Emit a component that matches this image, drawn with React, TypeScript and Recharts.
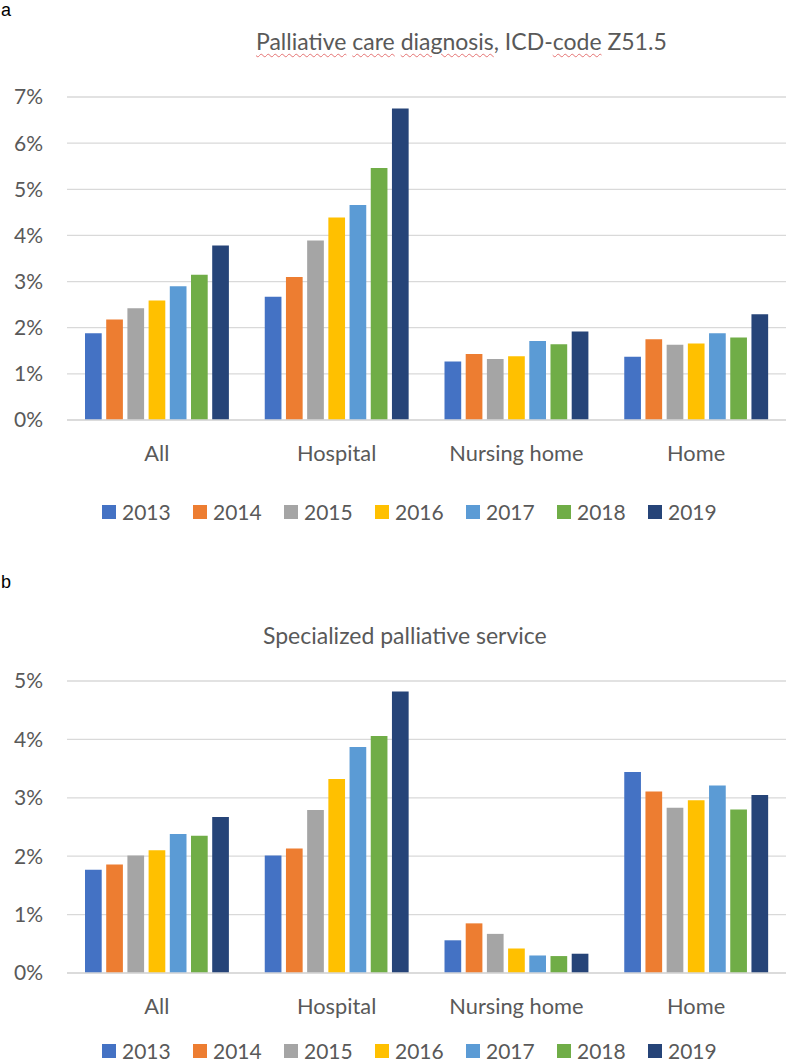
import { BarChart, Bar, XAxis, YAxis, CartesianGrid, Legend } from 'recharts';

const categories = ['All', 'Hospital', 'Nursing home', 'Home'];
const years = ['2013', '2014', '2015', '2016', '2017', '2018', '2019'];
const yearColors = ['#4472C4', '#ED7D31', '#A5A5A5', '#FFC000', '#5B9BD5', '#70AD47', '#264478'];

// a) palliative care diagnosis Z51.5 (%), order = categories
const diag2013 = [1.88, 2.67, 1.27, 1.37];
const diag2014 = [2.18, 3.1, 1.43, 1.75];
const diag2015 = [2.42, 3.89, 1.32, 1.63];
const diag2016 = [2.59, 4.39, 1.38, 1.66];
const diag2017 = [2.9, 4.66, 1.71, 1.88];
const diag2018 = [3.15, 5.46, 1.64, 1.79];
const diag2019 = [3.78, 6.75, 1.92, 2.29];
const diagTicks = [0, 1, 2, 3, 4, 5, 6, 7];

// b) specialized palliative service (%)
const spec2013 = [1.77, 2.01, 0.56, 3.44];
const spec2014 = [1.86, 2.13, 0.85, 3.11];
const spec2015 = [2.01, 2.79, 0.67, 2.83];
const spec2016 = [2.1, 3.32, 0.42, 2.96];
const spec2017 = [2.38, 3.87, 0.3, 3.21];
const spec2018 = [2.35, 4.06, 0.29, 2.8];
const spec2019 = [2.67, 4.82, 0.33, 3.05];
const specTicks = [0, 1, 2, 3, 4, 5];

const buildRows = (series: number[][]) =>
    categories.map((category, i) => {
        const row: any = { category };
        years.forEach((y, j) => {
            row[y] = series[j][i];
        });
        return row;
    });

const diagRows = buildRows([diag2013, diag2014, diag2015, diag2016, diag2017, diag2018, diag2019]);
const specRows = buildRows([spec2013, spec2014, spec2015, spec2016, spec2017, spec2018, spec2019]);

const FONT = 'Lato, "Noto Sans", sans-serif';
const TEXT = '#595959';
const GRID = '#d9d9d9';
const FS = 21;

interface PanelProps {
    rows: any[];
    ticks: number[];
    height: number;
    top: number;
    xAxisHeight: number;
    legendHeight: number;
    legendPad: number;
}

function Panel({ rows, ticks, height, top, xAxisHeight, legendHeight, legendPad }: PanelProps) {
    const renderLegend = (props: any) => (
        <div
            style={{
                boxSizing: 'border-box',
                height: legendHeight,
                paddingTop: legendPad,
                paddingLeft: 102,
                display: 'flex',
                fontFamily: FONT,
                fontSize: FS,
                lineHeight: '20px',
                color: TEXT,
            }}
        >
            {(props.payload || []).map((p: any) => (
                <div key={p.value} style={{ display: 'flex', alignItems: 'center', width: 91 }}>
                    <span style={{ display: 'inline-block', width: 14, height: 14, background: p.color, marginRight: 6 }} />
                    {p.value}
                </div>
            ))}
        </div>
    );

    return (
        <BarChart
            width={787}
            height={height}
            data={rows}
            margin={{ top, right: 1, left: 0, bottom: 0 }}
            barSize={16.7}
            barGap={4.5}
        >
            <CartesianGrid vertical={false} stroke={GRID} strokeWidth={1.3} />
            <XAxis
                dataKey="category"
                height={xAxisHeight}
                stroke={GRID}
                strokeWidth={1.3}
                tickLine={false}
                tickMargin={20}
                tick={{ fill: TEXT, fontSize: 21.8, fontFamily: FONT }}
            />
            <YAxis
                width={67}
                domain={[0, ticks[ticks.length - 1]]}
                ticks={ticks}
                axisLine={false}
                tickLine={false}
                tickMargin={18}
                tickFormatter={(v) => `${v}%`}
                tick={{ fill: TEXT, fontSize: FS, fontFamily: FONT }}
            />
            <Legend verticalAlign="bottom" align="left" content={renderLegend} />
            {years.map((y, i) => (
                <Bar key={y} dataKey={y} name={y} fill={yearColors[i]} isAnimationActive={false} />
            ))}
        </BarChart>
    );
}

const squiggle = {
    textDecorationLine: 'underline',
    textDecorationStyle: 'wavy',
    textDecorationColor: '#e57373',
    textDecorationThickness: '1px',
    textUnderlineOffset: '3px',
} as const;

const panelLetter = {
    position: 'absolute',
    left: 1,
    fontFamily: '"Liberation Sans", Arial, sans-serif',
    fontSize: 18,
    lineHeight: 'normal',
    color: '#000',
} as const;

export default function App() {
    return (
        <div style={{ position: 'absolute', left: 0, top: 0, width: 787, height: 1063, background: '#fff', overflow: 'hidden' }}>
            <div style={{ ...panelLetter, top: 0 }}>a</div>
            <div style={{ position: 'absolute', left: 256, top: 30, fontFamily: FONT, fontSize: 23, lineHeight: '23px', color: TEXT, whiteSpace: 'nowrap' }}>
                <span style={squiggle}>Palliative</span> <span style={squiggle}>care</span> <span style={squiggle}>diagnosis</span>, ICD-<span style={squiggle}>code</span> Z51.5
            </div>
            <div style={{ position: 'absolute', left: 0, top: 0 }}>
                <Panel rows={diagRows} ticks={diagTicks} height={530} top={97} xAxisHeight={60} legendHeight={50} legendPad={13} />
            </div>

            <div style={{ ...panelLetter, top: 572 }}>b</div>
            <div style={{ position: 'absolute', left: 263, top: 624, fontFamily: FONT, fontSize: 23, lineHeight: '23px', color: TEXT, whiteSpace: 'nowrap' }}>
                Specialized palliative service
            </div>
            <div style={{ position: 'absolute', left: 0, top: 560 }}>
                <Panel rows={specRows} ticks={specTicks} height={503} top={121} xAxisHeight={45} legendHeight={45} legendPad={21} />
            </div>
        </div>
    );
}
